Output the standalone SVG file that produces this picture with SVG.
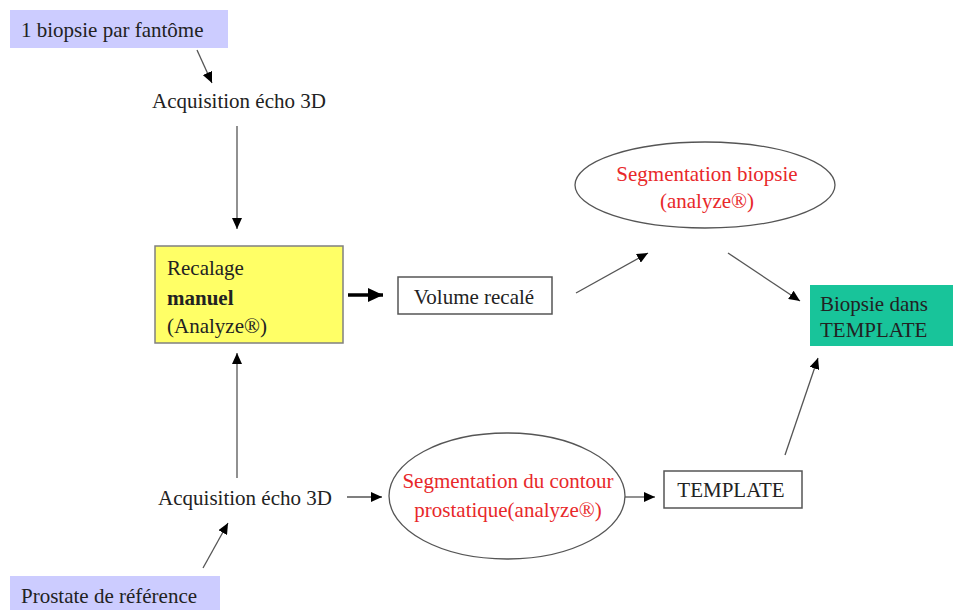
<svg xmlns="http://www.w3.org/2000/svg" width="953" height="610" viewBox="0 0 953 610">
<style>
text{font-family:"Liberation Serif","Times New Roman",serif;font-size:21px;fill:#222}
.red{fill:#e8282a}
.ln{stroke:#555;stroke-width:1.3;fill:none;marker-end:url(#ah)}
.box{fill:#fff;stroke:#555;stroke-width:1.5}
.ell{fill:#fff;stroke:#555;stroke-width:1.3}
</style>
<defs>
<marker id="ah" markerUnits="userSpaceOnUse" markerWidth="12" markerHeight="10" refX="11" refY="5" orient="auto">
<path d="M0,0 L11,5 L0,10 Z" fill="#000"/>
</marker>
<marker id="ahb" markerUnits="userSpaceOnUse" markerWidth="16" markerHeight="14" refX="15" refY="7" orient="auto">
<path d="M0,0 L15,7 L0,14 Z" fill="#000"/>
</marker>
</defs>
<g id="connectors">
<line class="ln" x1="197" y1="50" x2="212" y2="83"/>
<line class="ln" x1="237" y1="126" x2="237" y2="229"/>
<line x1="348" y1="295" x2="383" y2="295" stroke="#000" stroke-width="3.5" marker-end="url(#ahb)"/>
<line class="ln" x1="576" y1="293" x2="648" y2="253"/>
<line class="ln" x1="728" y1="253" x2="800" y2="301"/>
<line class="ln" x1="237" y1="478" x2="237" y2="353"/>
<line class="ln" x1="347" y1="497" x2="382" y2="497"/>
<line class="ln" x1="625" y1="497" x2="655" y2="497"/>
<line class="ln" x1="785" y1="455" x2="818" y2="358"/>
<line class="ln" x1="203" y1="568" x2="228" y2="523"/>
</g>
<g id="n-biopsie-fantome">
<rect x="10" y="10" width="218" height="38" fill="#ccccff"/>
<text x="21" y="37">1 biopsie par fantôme</text>
</g>
<g id="n-acq-top">
<text x="239" y="108" text-anchor="middle">Acquisition écho 3D</text>
</g>
<g id="n-recalage">
<rect x="155" y="246" width="188" height="97" fill="#ffff66" stroke="#808080" stroke-width="1.5"/>
<text x="167" y="275">Recalage</text>
<text x="167" y="305" font-weight="bold">manuel</text>
<text x="167" y="333">(Analyze®)</text>
</g>
<g id="n-volume">
<rect class="box" x="398" y="277" width="154" height="37"/>
<text x="474" y="304" text-anchor="middle">Volume recalé</text>
</g>
<g id="n-seg-biopsie">
<ellipse class="ell" cx="705" cy="185" rx="130" ry="43"/>
<text class="red" x="707" y="181" text-anchor="middle">Segmentation biopsie</text>
<text class="red" x="707" y="208" text-anchor="middle">(analyze®)</text>
</g>
<g id="n-biopsie-template">
<rect x="810" y="285" width="143" height="61" fill="#18c49a"/>
<text x="820" y="311">Biopsie dans</text>
<text x="820" y="337">TEMPLATE</text>
</g>
<g id="n-acq-bottom">
<text x="245" y="505" text-anchor="middle">Acquisition écho 3D</text>
</g>
<g id="n-seg-contour">
<ellipse class="ell" cx="507" cy="496" rx="118" ry="63"/>
<text class="red" x="508" y="488" text-anchor="middle">Segmentation du contour</text>
<text class="red" x="508" y="517" text-anchor="middle">prostatique(analyze®)</text>
</g>
<g id="n-template">
<rect class="box" x="664" y="471" width="138" height="37"/>
<text x="731" y="497" text-anchor="middle">TEMPLATE</text>
</g>
<g id="n-prostate">
<rect x="10" y="576" width="210" height="34" fill="#ccccff"/>
<text x="21" y="603">Prostate de référence</text>
</g>
</svg>
